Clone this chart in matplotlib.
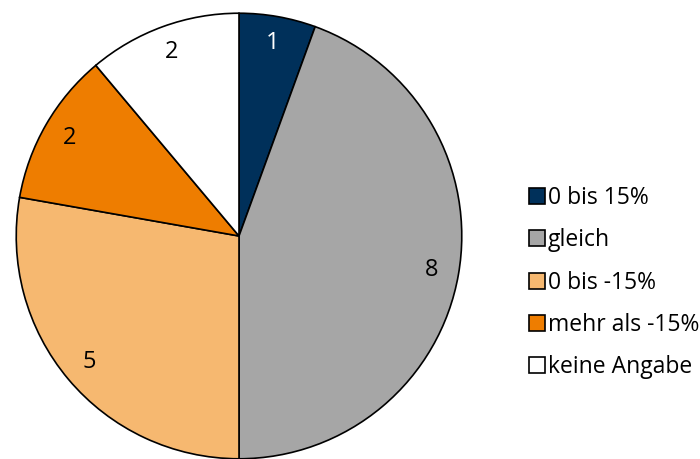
import matplotlib.pyplot as plt

# Verteilung der Antworten
kategorien = ['0 bis 15%', 'gleich', '0 bis -15%', 'mehr als -15%', 'keine Angabe']
anzahl = [1, 8, 5, 2, 2]
farben = ['#00305A', '#A6A6A6', '#F6B870', '#EE7D00', '#FFFFFF']

plt.rcParams['font.family'] = ['Open Sans', 'DejaVu Sans']

fig = plt.figure(figsize=(7, 4.59), dpi=100)
ax = fig.add_axes([14 / 700, -2 / 459, 450 / 700, 450 / 459])

wedges, texts = ax.pie(anzahl, colors=farben, startangle=90, counterclock=False,
                       labels=[str(v) for v in anzahl], labeldistance=0.88,
                       wedgeprops=dict(edgecolor='black', linewidth=1.2),
                       textprops=dict(fontsize=17, color='black'))
texts[0].set_color('white')
for t in texts:
    t.set_ha('center')
    t.set_va('center')
ax.set_aspect('equal')
ax.set_xlim(-1.01, 1.01)
ax.set_ylim(-1.01, 1.01)

fig.legend(wedges, kategorien, loc='center left', bbox_to_anchor=(0.755, 0.384),
           frameon=False, fontsize=16.5, handlelength=0.7, handleheight=0.7,
           handletextpad=0.15, labelspacing=0.8, borderpad=0, borderaxespad=0)

fig.savefig('out.png', dpi=100)
